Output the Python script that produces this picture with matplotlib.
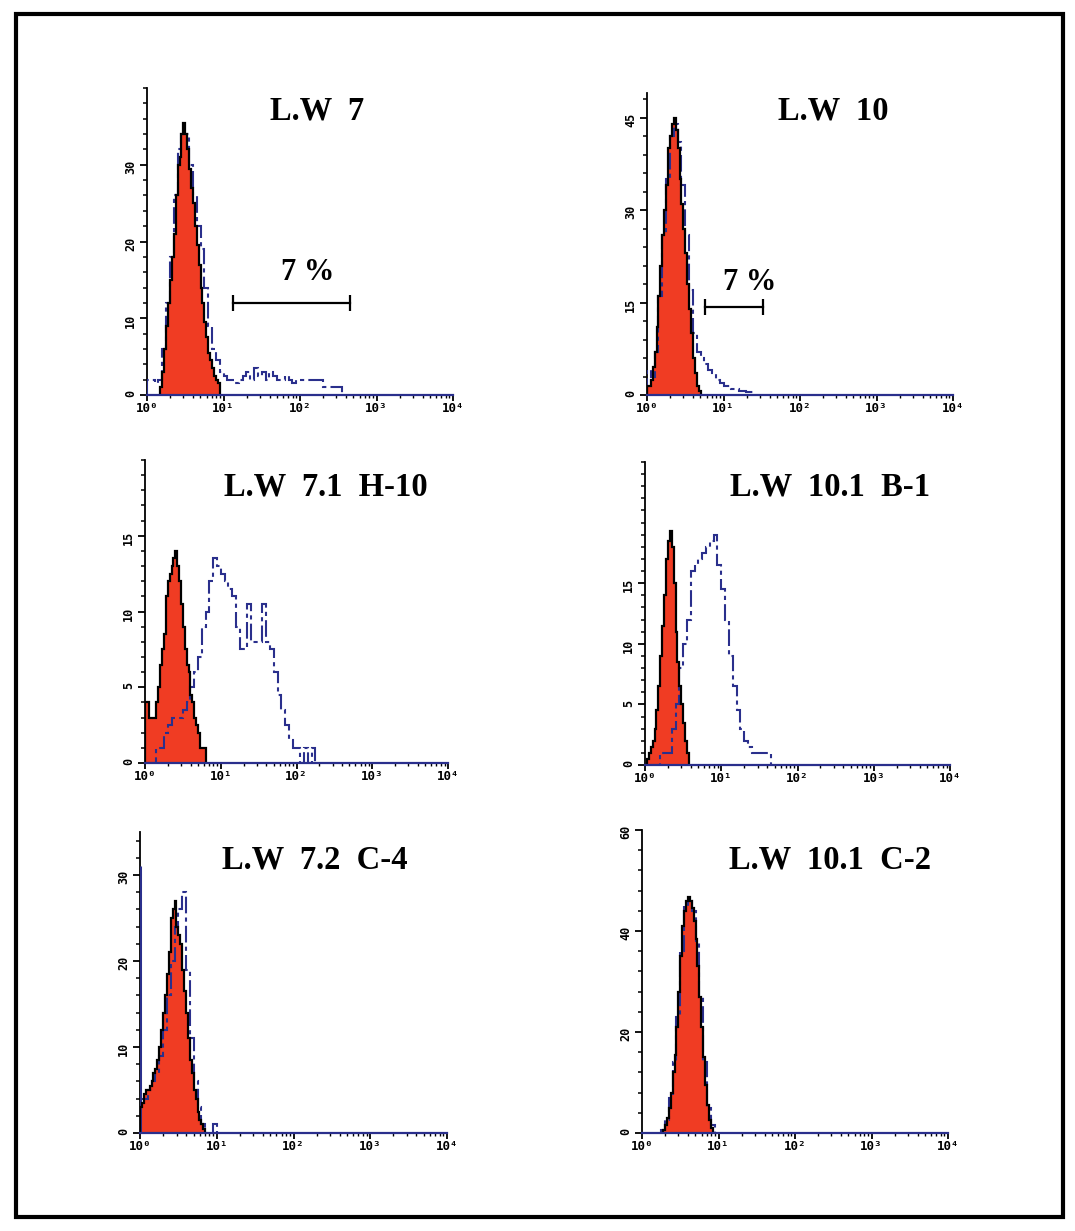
import numpy as np
import matplotlib
matplotlib.use("Agg")
import matplotlib.pyplot as plt
from matplotlib.patches import Rectangle
from matplotlib.ticker import MultipleLocator, LogLocator, NullFormatter

# Channel widths, in decades of fluorescence
CTRL_BIN = 0.025
STAIN_BIN = 0.05

titles = ["L.W  7", "L.W  10", "L.W  7.1  H-10",
          "L.W  10.1  B-1", "L.W  7.2  C-4", "L.W  10.1  C-2"]

# Isotype control (red, filled): first channel exponent + counts per channel
ctrl_start = [0.175, 0.0, 0.0, 0.025, 0.0, 0.275]
ctrl_lw7 = [1, 3, 6, 9, 12, 15, 18, 21, 26, 30, 31, 34, 35.5, 34, 32, 29.5,
            27, 25, 22, 19.5, 17, 14, 12, 9.5, 7.5, 5.5, 4.5, 3.5, 2.5, 2, 1.5]
ctrl_lw10 = [1.5, 1.5, 2.5, 4.5, 7, 11, 16, 21, 26, 30, 34, 40, 42, 44, 45,
             43, 40, 35, 31, 27, 23, 18, 14, 10, 6, 3.5, 1.5, 0.7]
ctrl_lw71 = [4, 4, 3, 3, 3, 3, 4, 5, 6.5, 7.5, 8.5, 11, 12, 12.5, 13, 13.5,
             14, 13, 12, 10.5, 9, 7.5, 6.5, 6, 4.5, 4, 3, 2.5, 2, 1, 1, 1]
ctrl_lw101b = [0.5, 1, 1.5, 2, 3, 4.5, 6.5, 9, 11.5, 14, 17, 18.5, 19.3, 18,
               15, 11, 8.5, 6.5, 5, 3.5, 2, 1]
ctrl_lw72 = [3, 3.5, 4.5, 5, 5, 5.5, 6, 7, 7.5, 8.5, 10, 12, 14, 16, 18.5, 21,
             25, 26, 27, 24, 23, 22, 19, 16.5, 14, 11, 8.5, 7, 5, 4, 2.5, 1.5,
             1, 0.5]
ctrl_lw101c = [0.5, 1.5, 3, 5, 8, 12, 15.5, 21, 28, 35, 41, 44, 46, 46.8, 46,
               44.5, 42, 38.5, 33, 27, 21, 15, 9.5, 5.5, 2.5, 1]

# Antibody stained (blue outline)
stain_start = [0.0, 0.0, 0.0, 0.0, 0.0, 0.25]
stain_lw7 = [2, 2, 1.5, 2, 6, 12, 18, 26, 32, 34, 34, 30, 26, 22, 19, 14, 9, 6,
             4.5, 3, 2.5, 2, 2, 1.5, 2, 2.5, 3, 2, 3.5, 2.5, 3, 2, 3, 2.5, 2, 2,
             2.5, 2, 1.5, 2, 2, 2, 2, 2, 2, 2, 1, 1, 1, 1, 1]
stain_lw10 = [4, 3, 7, 16, 26, 35, 42, 44, 41, 34, 26, 17, 10, 7, 6, 5, 4, 3.5,
              2.5, 2, 1.5, 1.5, 1, 1, 0.7, 0.7, 0.5, 0.5]
stain_lw71 = [0, 0, 0, 1, 1, 2, 2.5, 3, 3, 3, 3.5, 4, 5, 6, 7, 9, 10, 12, 13.5,
              13, 12.5, 12, 11.5, 11, 9, 7.5, 7.5, 10.5, 8, 8, 8, 10.5, 8, 7.5,
              6, 4.5, 3.5, 2.5, 1.5, 1, 1, 0, 1, 0, 1]
stain_lw101b = [0, 0, 0, 0, 1, 1, 1, 3, 5, 8, 10, 12, 16, 16.5, 17, 17.5, 18,
                18.5, 19, 16.5, 14.5, 12, 9, 6.5, 4.5, 3, 2, 1.5, 1, 1, 1, 1, 1]
stain_lw72 = [4, 4, 5, 6, 7, 9, 12, 16, 20, 24, 26, 28, 19, 11, 6, 3, 1, 0, 0, 1]
stain_lw101c = [0.5, 2.5, 7, 14, 23, 36, 45, 46, 44, 38, 27, 14, 5, 1.5]

# Pile-up in the first channel of the stained sample
stain_first_channel = [0, 0, 0, 0, 31, 0]

# Marker gates: (low, high, height) and the percentage printed above them
gates = {0: (13.4, 451, 12), 1: (5.7, 33, 14.2)}
gate_text = {0: ("7 %", 125, 15.9), 1: ("7 %", 22, 18.3)}

ctrl = [ctrl_lw7, ctrl_lw10, ctrl_lw71, ctrl_lw101b, ctrl_lw72, ctrl_lw101c]
stain = [stain_lw7, stain_lw10, stain_lw71, stain_lw101b, stain_lw72, stain_lw101c]

# axes boxes in pixels: left, top, right, bottom
W, H = 1075, 1231
boxes = [(147, 88, 453, 395), (647, 93, 953, 395),
         (145, 460, 448, 763), (645, 462, 950, 765),
         (140, 832, 447, 1133), (642, 830, 948, 1133)]
ylims = [40, 49, 20, 25, 35, 60]
ylabel_top = [30, 45, 15, 15, 30, 60]
ymajor = [10, 15, 5, 5, 10, 20]
yminor = [2, 3, 1, 1, 2, 4]
title_pos = [(0.556, 0.925), (0.608, 0.94), (0.597, 0.911),
             (0.607, 0.917), (0.57, 0.907), (0.614, 0.90)]

RED = "#f03c23"
BLUE = "#2a2f8c"
DASH = (0, (8, 2, 2, 2))

fig = plt.figure(figsize=(W / 100, H / 100), dpi=100)
fig.patch.set_facecolor("white")

for i in range(6):
    l, t, r, b = boxes[i]
    ax = fig.add_axes([l / W, 1 - b / H, (r - l) / W, (b - t) / H])

    ce = 10 ** (ctrl_start[i] + CTRL_BIN * np.arange(len(ctrl[i]) + 1))
    se = 10 ** (stain_start[i] + STAIN_BIN * np.arange(len(stain[i]) + 1))

    ax.stairs(ctrl[i], ce, fill=True, color=RED, zorder=2)
    ax.stairs(stain[i], se, color=BLUE, lw=1.5, linestyle=DASH, zorder=3)
    ax.stairs(ctrl[i], ce, color="black", lw=1.6, zorder=4)
    if stain_first_channel[i]:
        ax.vlines(1.0, 0, stain_first_channel[i], color=BLUE, lw=2.2, zorder=3)

    if i in gates:
        g0, g1, gy = gates[i]
        ax.plot([g0, g1], [gy, gy], color="black", lw=1.6, marker="|",
                markersize=12, markeredgewidth=1.6, zorder=5)
        txt, tx, ty = gate_text[i]
        ax.text(tx, ty, txt, ha="center", va="center", fontsize=22,
                fontweight="bold", family="Liberation Serif")

    ax.text(*title_pos[i], titles[i], transform=ax.transAxes, ha="center",
            va="center", fontsize=23.5, fontweight="bold", family="Liberation Serif")

    ax.set_xscale("log")
    ax.set_xlim(1, 1e4)
    ax.set_ylim(0, ylims[i])
    ax.set_xticks([1, 10, 100, 1000, 10000])
    ax.set_xticklabels(["10⁰", "10¹", "10²", "10³", "10⁴"])
    ax.xaxis.set_minor_locator(LogLocator(base=10, subs=np.arange(2, 10)))
    ax.xaxis.set_minor_formatter(NullFormatter())
    ax.set_yticks(np.arange(0, ylabel_top[i] + 1, ymajor[i]))
    ax.yaxis.set_minor_locator(MultipleLocator(yminor[i]))

    for side in ("top", "right"):
        ax.spines[side].set_visible(False)
    ax.spines["left"].set_linewidth(1.3)
    ax.spines["bottom"].set_linewidth(1.6)
    ax.spines["bottom"].set_color(BLUE)
    ax.spines["bottom"].set_zorder(6)

    ax.tick_params(axis="y", which="major", direction="out", length=5,
                   width=1.3, labelrotation=90, labelsize=8.5, pad=2)
    ax.tick_params(axis="y", which="minor", direction="out", length=3, width=1.1)
    ax.tick_params(axis="x", which="major", direction="out", length=4,
                   width=1.3, labelsize=9, pad=1)
    ax.tick_params(axis="x", which="minor", direction="out", length=2.5, width=1.0)
    for lab in ax.get_xticklabels() + ax.get_yticklabels():
        lab.set_fontfamily("DejaVu Sans Mono")
        lab.set_fontweight("bold")

# heavy frame around the whole figure
fig.add_artist(Rectangle((16 / W, 1 - 1217 / H), (1063 - 16) / W, (1217 - 14) / H,
                         transform=fig.transFigure, fill=False, ec="black", lw=3))

fig.savefig("out.png", dpi=100)
